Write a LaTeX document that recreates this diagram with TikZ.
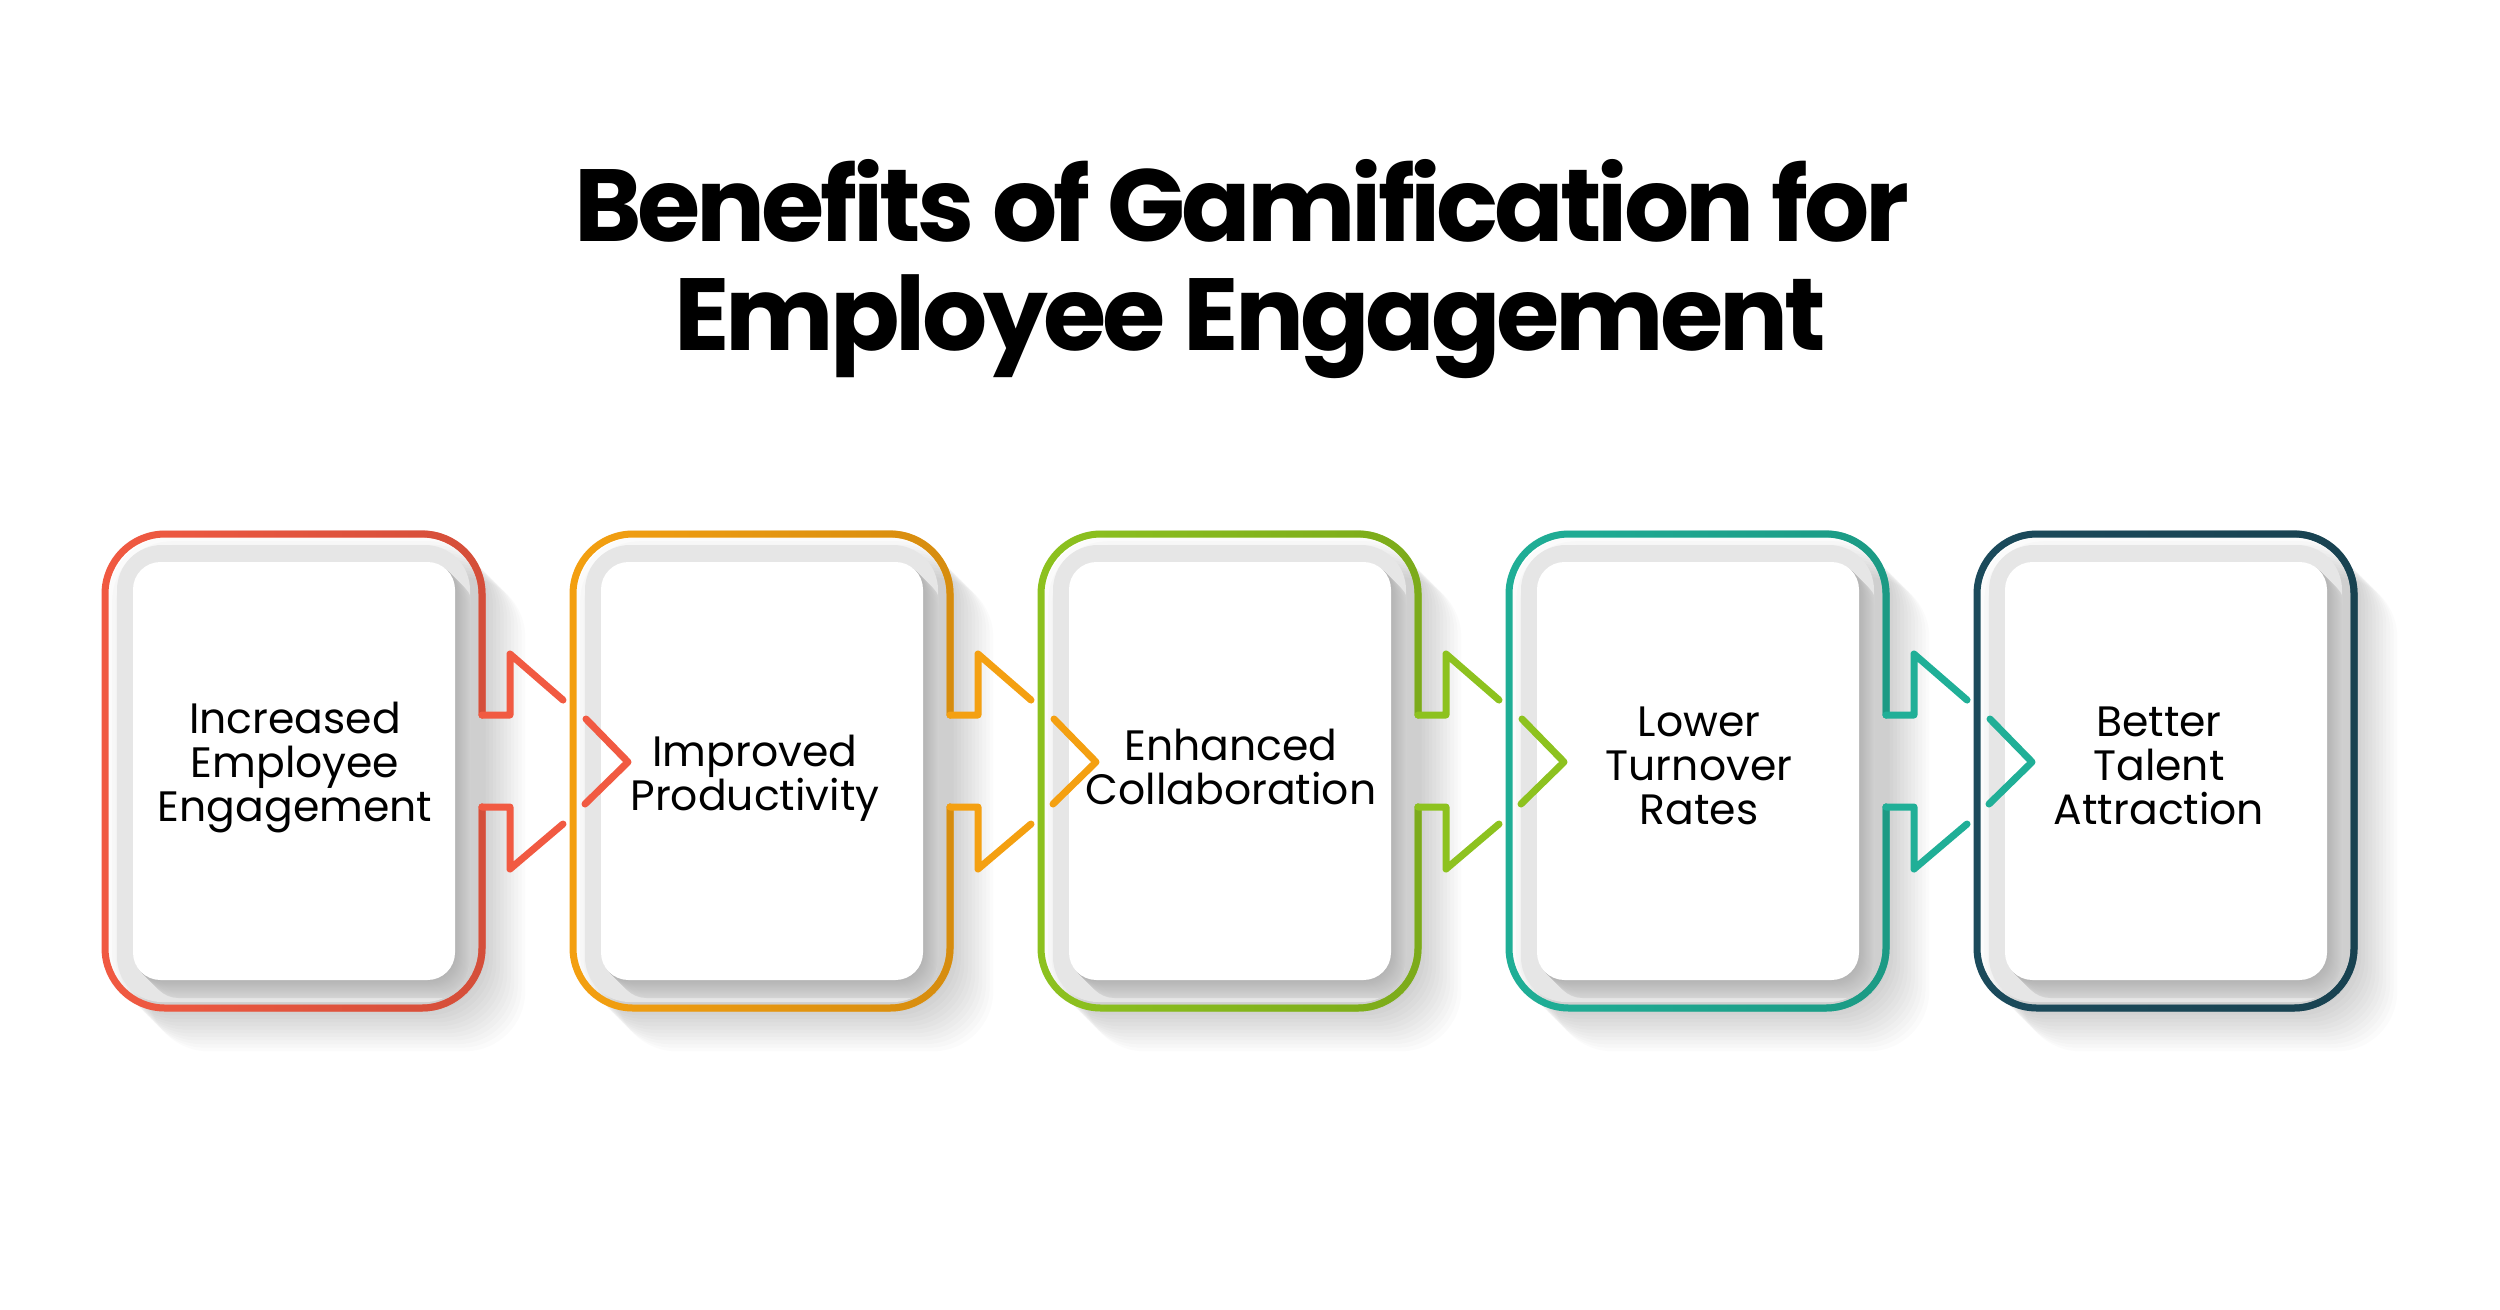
\documentclass[tikz,border=0pt]{standalone}
\usepackage{fontspec}
\setmainfont{Poppins}
\usetikzlibrary{calc,fadings}
\definecolor{c0}{HTML}{F15A42}
\definecolor{c1}{HTML}{F4A011}
\definecolor{c2}{HTML}{8DC21F}
\definecolor{c3}{HTML}{20AF97}
\definecolor{c4}{HTML}{1C4B5C}
\definecolor{framegray}{HTML}{E6E6E6}
\definecolor{shadnear}{HTML}{B3B3B3}
\definecolor{shadfar}{HTML}{D4D4D4}
\tikzfading[name=rightdark, left color=transparent!100, right color=transparent!20]
\tikzset{
  outline/.style={line width=2.8pt, rounded corners=24pt, line cap=round, line join=round},
  notch/.style={line width=2.8pt, line cap=round, line join=round},
  titletext/.style={font=\fontsize{41}{44}\selectfont\bfseries\addfontfeatures{LetterSpace=-4}, anchor=base, inner sep=0pt},
  boxtext/.style={font=\fontsize{17}{17.6}\selectfont, align=center, inner sep=0pt},
}
\begin{document}
\begin{tikzpicture}[x=0.4pt,y=-0.4pt]
\useasboundingbox (0,0) rectangle (2500,1309);
\fill[white] (0,0) rectangle (2500,1309);

% title
\node[titletext] (title1) at (1242,241) {Benefits of Gamification for};
\node[titletext] (title2) at (1250,350) {Employee Engagement};

\def\T{534}\def\B{1008}\def\yc{762}

% long shadows
\foreach \k in {0,...,4}{
  \pgfmathsetmacro\L{105+468*\k}
  \pgfmathsetmacro\R{\L+377}
  \foreach \i in {1,...,12}{
    \fill[black, opacity=0.015, rounded corners=24pt, shift={(3.6*\i,3.6*\i)}] (\L,\T) rectangle (\R,\B);
  }
}

% boxes
\foreach \k/\tx/\ty/\txt in {0/190/767/{Increased\\Employee\\Engagement},
                         1/182/778/{Improved\\Productivity},
                         2/190/767/{Enhanced\\Collaboration},
                         3/190/766/{Lower\\Turnover\\Rates},
                         4/182/766/{Better\\Talent\\Attraction}}{
  \pgfmathsetmacro\L{105+468*\k}
  \pgfmathsetmacro\R{\L+377}
  % grey frame
  \fill[framegray, rounded corners=18pt] (\L+12,\T+11) rectangle (\R-12,\B-6);
  % card shadow
  \begin{scope}
    \clip[rounded corners=18pt] (\L+12,\T+11) rectangle (\R-12,\B-6);
    \foreach \j in {18,...,1}{
      \pgfmathsetmacro\mix{100-\j*100/18}
      \fill[shadnear!\mix!shadfar, rounded corners=11pt, shift={(\j,\j)}] (\L+28,\T+28) rectangle (\R-27,\B-28);
    }
  \end{scope}
  % white card
  \fill[white, rounded corners=11pt] (\L+28,\T+28) rectangle (\R-27,\B-28);
  \node[boxtext] (t\k) at (\L+\tx,\ty) {\txt};
  % named points
  \coordinate (ua\k) at (\R,\yc-47);
  \coordinate (ub\k) at (\R+28,\yc-47);
  \coordinate (uc\k) at (\R+28,\yc-108);
  \coordinate (ud\k) at (\R+81,\yc-62);
  \coordinate (la\k) at (\R,\yc+45);
  \coordinate (lb\k) at (\R+28,\yc+45);
  \coordinate (lc\k) at (\R+28,\yc+107);
  \coordinate (ld\k) at (\R+81,\yc+62);
  \coordinate (va\k) at (\R+104,\yc-43);
  \coordinate (vb\k) at (\R+146,\yc);
  \coordinate (vc\k) at (\R+103,\yc+42);
  \ifnum\k<4
    \draw[c\k, outline] (ua\k) -- (\R,\T) -- (\L,\T) -- (\L,\B) -- (\R,\B) -- (la\k);
    \draw[c\k!85!black, outline, path fading=rightdark] (ua\k) -- (\R,\T) -- (\L,\T) -- (\L,\B) -- (\R,\B) -- (la\k);
    \draw[c\k, notch] (ua\k) -- (ub\k) -- (uc\k) -- (ud\k);
    \draw[c\k, notch] (la\k) -- (lb\k) -- (lc\k) -- (ld\k);
  \else
    \draw[c\k, outline] (\R,\yc) -- (\R,\T) -- (\L,\T) -- (\L,\B) -- (\R,\B) -- cycle;
    \draw[c\k!85!black, outline, path fading=rightdark] (\R,\yc) -- (\R,\T) -- (\L,\T) -- (\L,\B) -- (\R,\B) -- cycle;
  \fi
}

% chevrons into the next box
\foreach \k in {0,...,3}{
  \draw[c\k, notch] (va\k) -- (vb\k) -- (vc\k);
}
\end{tikzpicture}
\end{document}
